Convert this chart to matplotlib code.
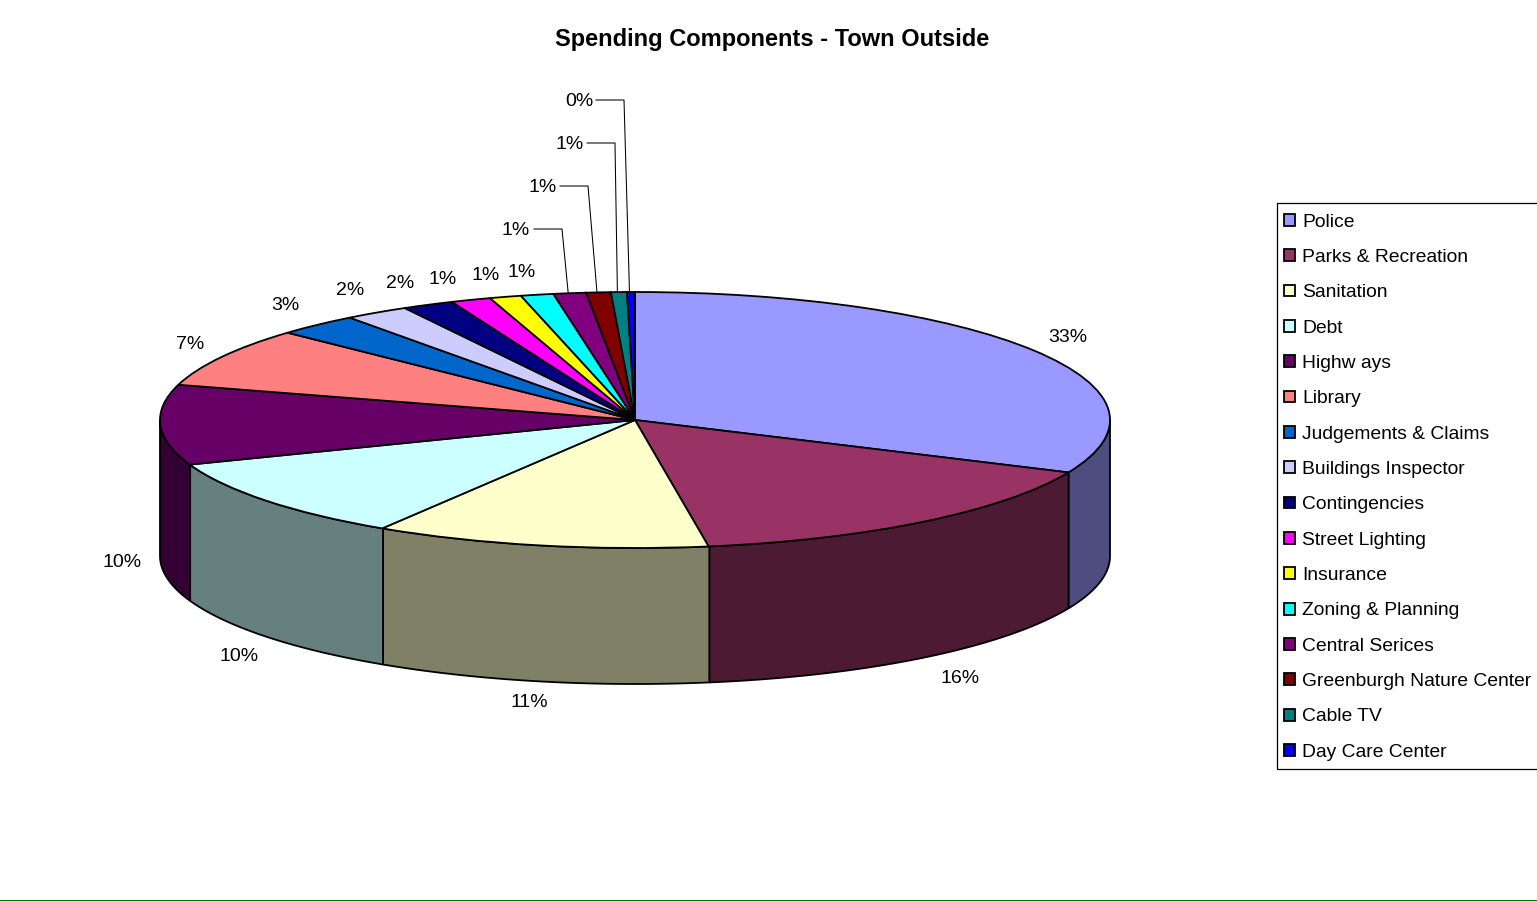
import numpy as np
import matplotlib
matplotlib.use('Agg')
import matplotlib.pyplot as plt

plt.rcParams['font.family'] = ['Liberation Sans', 'DejaVu Sans']

W, H = 1537, 901

# -------------------------------
# data
# -------------------------------
names = ['Police', 'Parks & Recreation', 'Sanitation', 'Debt', 'Highw ays', 'Library',
         'Judgements & Claims', 'Buildings Inspector', 'Contingencies', 'Street Lighting',
         'Insurance', 'Zoning & Planning', 'Central Serices', 'Greenburgh Nature Center',
         'Cable TV', 'Day Care Center']
values = [31.7, 15.8, 11.4, 10.4, 10.1, 7.5, 2.8, 2.2, 1.75, 1.36, 1.08, 1.11, 1.11, 0.83, 0.54, 0.27]
pct_labels = ['33%', '16%', '11%', '10%', '10%', '7%', '3%', '2%', '2%', '1%', '1%', '1%', '1%', '1%', '1%', '0%']
colors = ['#9999FF', '#993366', '#FFFFCC', '#CCFFFF', '#660066', '#FF8080', '#0066CC', '#CCCCFF',
          '#000080', '#FF00FF', '#FFFF00', '#00FFFF', '#800080', '#800000', '#008080', '#0000FF']

# label centres in pixels
label_pos = [(1068, 336), (960, 677), (529, 701), (239, 655), (122, 561), (190, 343), (285, 304),
             (350, 289), (400, 282), (443, 278), (486, 274), (522, 271), (516, 229), (543, 186),
             (570, 143), (579, 100)]
# last four slices have leader lines: elbow x in pixels
leader_elbow = {12: 562, 13: 588, 14: 615, 15: 624}

# pie geometry in pixels
cx, cy, rx, ry, depth = 635, 420, 475, 128, 136

fig = plt.figure(figsize=(W / 100, H / 100), dpi=100, facecolor='white')
ax = fig.add_axes([0, 0, 1, 1])

wedges, _ = ax.pie(values, colors=colors, startangle=90, counterclock=False,
                   radius=1, wedgeprops={'edgecolor': 'black', 'linewidth': 1.3, 'zorder': 3})

# the whole figure is the axes, unit circle lands on the ellipse
ax.set_aspect('auto')
ax.set_xlim(-cx / rx, (W - cx) / rx)
ax.set_ylim((cy - H) / ry, cy / ry)
ax.axis('off')


def to_data(px, py):
    return (px - cx) / rx, (cy - py) / ry


# side wall, only the front half can be seen
d = depth / ry
edges = 90 - np.cumsum([0] + values) * 3.6
for i, c in enumerate(colors):
    a1, a2 = edges[i + 1], edges[i]
    lo, hi = max(a1, -180), min(a2, 0)
    if lo >= hi:
        continue
    t = np.radians(np.linspace(lo, hi, 60))
    xs = np.r_[np.cos(t), np.cos(t[::-1])]
    ys = np.r_[np.sin(t), np.sin(t[::-1]) - d]
    shade = tuple(v * 0.5 for v in matplotlib.colors.to_rgb(c))
    ax.fill(xs, ys, facecolor=shade, edgecolor='black', linewidth=1.3, zorder=1, joinstyle='round')

# percentage labels
for s, (px, py) in zip(pct_labels, label_pos):
    x, y = to_data(px, py + 1.5)
    ax.text(x, y, s, ha='center', va='center', fontsize=14, color='black', zorder=5)

# leader lines for the thin slices
for i, elbow in leader_elbow.items():
    mid = np.radians((edges[i] + edges[i + 1]) / 2)
    tip = (np.cos(mid), np.sin(mid))
    px, py = label_pos[i]
    x0, y0 = to_data(elbow - 28, py)
    x1, _ = to_data(elbow, py)
    ax.plot([x0, x1, tip[0]], [y0, y0, tip[1]], color='black', linewidth=0.75, zorder=2)

fig.text(772 / W, 1 - 39.5 / H, 'Spending Components - Town Outside', ha='center', va='center',
         fontsize=17.05, fontweight='bold')

# legend box is drawn on its own, it runs off the right edge
box = plt.Rectangle((1277 / W, 1 - 769 / H), 270 / W, 566 / H, transform=fig.transFigure,
                    facecolor='white', edgecolor='black', linewidth=0.9)
fig.add_artist(box)

leg = ax.legend(wedges, names, loc='upper left', bbox_to_anchor=(1277 / W, 1 - 206.7 / H),
                bbox_transform=fig.transFigure, prop={'size': 13.9}, frameon=False,
                borderaxespad=0, borderpad=0.36,
                handlelength=0.57, handleheight=0.57, handletextpad=0.37, labelspacing=0.95)
leg.set_zorder(10)
fig.add_artist(leg)
ax.legend_ = None
for h in leg.legend_handles:
    h.set_linewidth(1.3)

# green rule along the bottom
rule = plt.Line2D([0, 1], [0.5 / H, 0.5 / H], color='#008000', linewidth=0.72)
rule.set_snap(False)
fig.add_artist(rule)

fig.savefig('out.png', dpi=100, facecolor='white')
